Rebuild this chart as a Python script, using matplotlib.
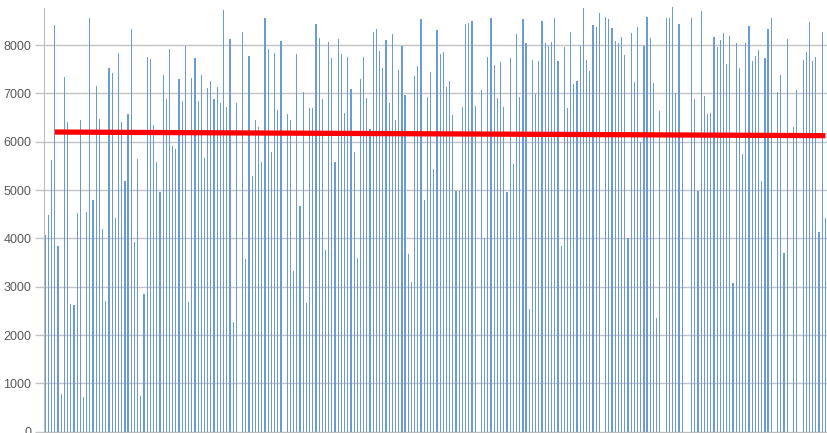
import numpy as np
import matplotlib
matplotlib.use('Agg')
import matplotlib.pyplot as plt

# valori (una barra per ogni categoria)
valori = [
    4070, 4480, 5620, 8420, 3850, 780, 7340, 6400, 2640, 2620,
    4520, 6450, 720, 4550, 8560, 4800, 7160, 6470, 4200, 2700,
    7520, 7430, 4420, 7830, 6400, 5190, 6570, 8330, 3920, 5650,
    740, 2850, 7760, 7720, 6350,
    5580, 4950, 7370, 6890, 7910, 5910, 5840, 7290, 6850, 7980,
    2680, 7310, 7740, 6840, 7380, 5670, 7120, 7250, 6880, 7130,
    6800, 8730, 6710, 8130, 2260, 6800, 0, 8280, 3570, 7780,
    5300, 6450, 6310, 5580, 8560,
    7910, 5780, 7830, 6660, 8090, 0, 6580, 6450, 3330, 7810,
    4660, 7020, 2660, 6690, 6690, 8430, 8140, 6880, 3760, 8070,
    7730, 5590, 8120, 7810, 6590, 7760, 7090, 5780, 3600, 7300,
    7750, 6900, 6260, 8260, 8330,
    7870, 7530, 8110, 6810, 8230, 6450, 7490, 7990, 6960, 3680,
    3090, 7360, 7570, 8540, 4800, 6930, 7440, 5440, 8310, 7810,
    7850, 7130, 7260, 6560, 4990, 4990, 6710, 8440, 8450, 8490,
    6740, 0, 7060, 4000, 7750,
    8560, 7590, 6900, 7640, 6710, 4950, 7730, 5530, 8230, 6930,
    8540, 8050, 2530, 7690, 6990, 7660, 8500, 8040, 7990, 8060,
    8560, 7660, 3850, 7950, 6690, 8270, 7190, 7250, 7970, 8760,
    7690, 7470, 8420, 8380, 8670,
    0, 8590, 8530, 8350, 8090, 8040, 8160, 7800, 4000, 8250,
    7230, 8380, 6000, 7970, 8580, 8140, 7220, 2350, 6640, 0,
    8560, 8560, 8780, 7000, 8440, 6110, 0, 0, 8560, 6890,
    4990, 8710, 6950, 6580, 6600,
    8160, 7960, 8110, 8250, 7600, 8180, 3070, 8040, 7520, 5740,
    8040, 8400, 7680, 7780, 7890, 5180, 7730, 8330, 8560, 0,
    7020, 7380, 3690, 8120, 0, 6310, 7070, 0, 7690, 7850,
    8470, 7680, 7750, 4130, 8260, 4420,
]

# linea di tendenza (estremi)
tendenza_x = [3, len(valori) - 1]
tendenza_y = [6200, 6125]

tick_y = [0, 1000, 2000, 3000, 4000, 5000, 6000, 7000, 8000]

plt.rcParams['font.family'] = ['Liberation Sans', 'DejaVu Sans']

fig = plt.figure(figsize=(8.27, 4.33), dpi=100)
ax = fig.add_axes([43.7 / 827, 0, 1 - 43.7 / 827, 1])

x = np.arange(len(valori))
ax.bar(x, valori, width=0.38, color='#6b9bd6', zorder=2)
ax.plot(tendenza_x, tendenza_y, color='#ff0000', linewidth=3.8,
        solid_capstyle='butt', zorder=3)

ax.set_xlim(-0.5, len(valori) - 0.5)
ax.set_ylim(-27, 8932)
ax.set_yticks(tick_y)
ax.set_yticklabels([str(t) for t in tick_y])
ax.set_xticks([])

ax.grid(axis='y', color='#c4c4c4', linewidth=1, zorder=0)
ax.set_axisbelow(True)

for lato in ['top', 'right']:
    ax.spines[lato].set_visible(False)
ax.spines['left'].set_color('#bdbdbd')
ax.spines['left'].set_bounds(0, 8770)
ax.spines['bottom'].set_color('#bdbdbd')
ax.spines['bottom'].set_position(('data', 0))

ax.tick_params(axis='y', length=6.5, width=1, color='#c4c4c4',
               pad=2.5, labelsize=9, labelcolor='#595959')

fig.savefig('out.png', dpi=100)
